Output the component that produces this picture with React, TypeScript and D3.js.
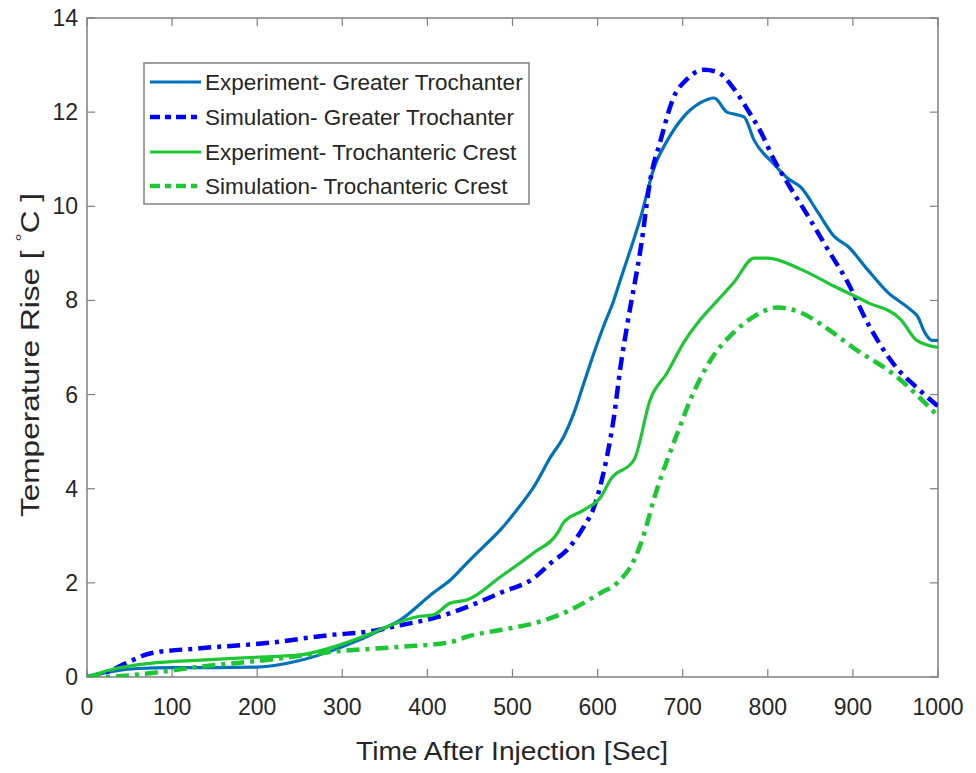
import React from "react";
import * as d3 from "d3";

const expGT_t = [0, 30, 60, 100, 150, 200, 250, 300, 350, 368, 407, 427, 447, 466, 486, 505, 525, 545, 560, 572, 584, 596, 608, 619, 627, 651, 666, 682, 701, 721, 737, 752, 760, 772, 784, 807, 823, 839, 859, 878, 894, 917, 941, 968, 976, 985, 993, 1000];
const expGT_v = [0, 0.12, 0.18, 0.2, 0.2, 0.21, 0.35, 0.64, 1.04, 1.21, 1.79, 2.06, 2.43, 2.77, 3.13, 3.55, 4.04, 4.68, 5.1, 5.6, 6.25, 6.9, 7.5, 8.0, 8.45, 9.79, 10.8, 11.4, 11.9, 12.2, 12.3, 12.0, 11.96, 11.9, 11.4, 10.9, 10.6, 10.4, 9.87, 9.36, 9.15, 8.66, 8.17, 7.8, 7.66, 7.3, 7.15, 7.15];

const simGT_t = [0, 25, 47, 74, 133, 211, 290, 329, 368, 407, 447, 486, 525, 545, 564, 584, 596, 604, 611, 619, 627, 635, 651, 662, 674, 689, 705, 725, 741, 760, 776, 792, 807, 823, 847, 870, 894, 917, 950, 975, 1000];
const simGT_v = [0, 0.12, 0.3, 0.5, 0.61, 0.72, 0.9, 0.96, 1.1, 1.25, 1.49, 1.79, 2.1, 2.42, 2.7, 3.2, 3.62, 4.12, 4.68, 5.5, 6.6, 7.5, 9.15, 10.57, 11.4, 12.3, 12.7, 12.9, 12.85, 12.5, 12.06, 11.57, 11.0, 10.5, 9.8, 9.1, 8.38, 7.53, 6.6, 6.15, 5.75];

const expTC_t = [0, 27, 74, 133, 211, 251, 290, 329, 349, 388, 407, 427, 447, 486, 525, 553, 560, 584, 604, 615, 643, 662, 682, 701, 721, 741, 760, 784, 800, 839, 878, 917, 956, 975, 1000];
const expTC_v = [0, 0.15, 0.29, 0.36, 0.43, 0.47, 0.64, 0.89, 1.04, 1.28, 1.32, 1.57, 1.64, 2.13, 2.64, 3.06, 3.28, 3.55, 3.83, 4.19, 4.62, 5.9, 6.47, 7.1, 7.6, 8.0, 8.38, 8.9, 8.9, 8.66, 8.3, 7.96, 7.6, 7.15, 7.0];

const simTC_t = [0, 15, 74, 133, 211, 290, 368, 427, 447, 486, 525, 564, 604, 623, 643, 655, 666, 682, 694, 709, 733, 760, 784, 811, 839, 870, 900, 950, 997];
const simTC_v = [0, 0, 0.08, 0.22, 0.36, 0.54, 0.64, 0.74, 0.86, 1.0, 1.14, 1.39, 1.79, 2.0, 2.49, 3.06, 3.77, 4.62, 5.19, 5.89, 6.74, 7.32, 7.66, 7.85, 7.74, 7.4, 7.0, 6.4, 5.6];

const seriesNames = [
  "Experiment- Greater Trochanter",
  "Simulation- Greater Trochanter",
  "Experiment- Trochanteric Crest",
  "Simulation- Trochanteric Crest",
];

const xTicks = [0, 100, 200, 300, 400, 500, 600, 700, 800, 900, 1000];
const yTicks = [0, 2, 4, 6, 8, 10, 12, 14];

const W = 976;
const H = 773;
const left = 87;
const right = 938;
const top = 18;
const bottom = 677;

const FONT = "'Liberation Sans', Arial, sans-serif";
const TEXT = "#262626";
const AXIS = "#808080";
const DASH = "13,6,4,6";

export default function App() {
  const x = d3.scaleLinear().domain([0, 1000]).range([left, right]);
  const y = d3.scaleLinear().domain([0, 14]).range([bottom, top]);
  const line = d3
    .line<[number, number]>()
    .x((d) => x(d[0]))
    .y((d) => y(d[1]))
    .curve(d3.curveMonotoneX);

  const zip = (t: number[], v: number[]) => t.map((tt, i) => [tt, v[i]] as [number, number]);

  const series = [
    { name: seriesNames[0], data: zip(expGT_t, expGT_v), color: "#0072BD", w: 3.2, dash: undefined },
    { name: seriesNames[1], data: zip(simGT_t, simGT_v), color: "#0000FF", w: 4.5, dash: DASH },
    { name: seriesNames[2], data: zip(expTC_t, expTC_v), color: "#1DC633", w: 3.2, dash: undefined },
    { name: seriesNames[3], data: zip(simTC_t, simTC_v), color: "#1DC633", w: 4.5, dash: DASH },
  ];

  const tickLen = 8;
  const legX = 144;
  const legY = 63;
  const legW = 385;
  const legH = 141;
  const rowYs = [82, 117, 152, 186];

  return (
    <svg width={W} height={H} style={{ position: "absolute", left: 0, top: 0, background: "#fff" }}>
      <defs>
        <clipPath id="plot">
          <rect x={left} y={top} width={right - left} height={bottom - top} />
        </clipPath>
      </defs>
      <rect x={0} y={0} width={W} height={H} fill="#fff" />
      <rect x={left} y={top} width={right - left} height={bottom - top} fill="none" stroke={AXIS} strokeWidth={1.5} />
      {xTicks.map((t) => (
        <g key={"xt" + t}>
          <line x1={x(t)} x2={x(t)} y1={bottom} y2={bottom - tickLen} stroke={AXIS} strokeWidth={1.2} />
          <line x1={x(t)} x2={x(t)} y1={top} y2={top + tickLen} stroke={AXIS} strokeWidth={1.2} />
          <text x={x(t)} y={715} textAnchor="middle" fontFamily={FONT} fontSize={23} fill={TEXT}>
            {t}
          </text>
        </g>
      ))}
      {yTicks.map((v) => (
        <g key={"yt" + v}>
          <line x1={left} x2={left + tickLen} y1={y(v)} y2={y(v)} stroke={AXIS} strokeWidth={1.2} />
          <line x1={right} x2={right - tickLen} y1={y(v)} y2={y(v)} stroke={AXIS} strokeWidth={1.2} />
          <text x={78} y={y(v) + 8} textAnchor="end" fontFamily={FONT} fontSize={23} fill={TEXT}>
            {v}
          </text>
        </g>
      ))}
      <g clipPath="url(#plot)">
        {series.map((s) => (
          <path
            key={s.name}
            d={line(s.data) || ""}
            fill="none"
            stroke={s.color}
            strokeWidth={s.w}
            strokeDasharray={s.dash}
            strokeLinejoin="round"
          />
        ))}
      </g>
      <text x={512} y={760} textAnchor="middle" fontFamily={FONT} fontSize={26} fill={TEXT} textLength={312} lengthAdjust="spacingAndGlyphs">
        Time After Injection [Sec]
      </text>
      <text
        transform={`translate(39, 193) rotate(-90)`}
        x={-324}
        textAnchor="start"
        fontFamily={FONT}
        fontSize={26}
        fill={TEXT}
        textLength={324}
        lengthAdjust="spacingAndGlyphs"
      >
        {"Temperature Rise [ "}
        <tspan fontSize={17} dy={-11}>°</tspan>
        <tspan dy={11}>{"C ]"}</tspan>
      </text>
      <rect x={legX} y={legY} width={legW} height={legH} fill="#fff" stroke={AXIS} strokeWidth={1.5} />
      {series.map((s, i) => (
        <g key={"leg" + i}>
          <line
            x1={150}
            x2={201}
            y1={rowYs[i]}
            y2={rowYs[i]}
            stroke={s.color}
            strokeWidth={s.w}
            strokeDasharray={s.dash ? "10,5,6,5" : undefined}
          />
          <text x={205} y={rowYs[i] + 8} fontFamily={FONT} fontSize={22.5} fill={TEXT}>
            {s.name}
          </text>
        </g>
      ))}
    </svg>
  );
}
